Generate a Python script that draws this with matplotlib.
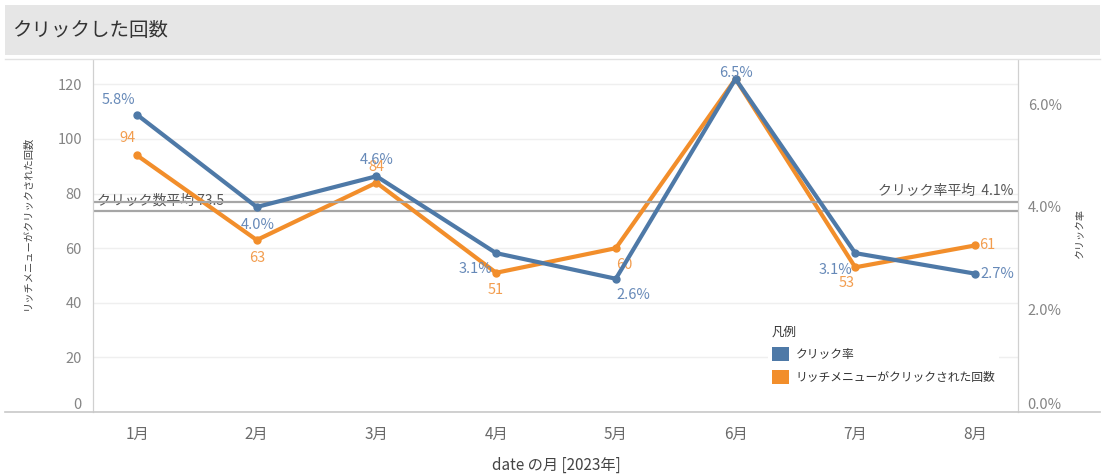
import matplotlib
matplotlib.use("Agg")
import matplotlib.pyplot as plt
from matplotlib.patches import Rectangle, Patch
from matplotlib.lines import Line2D

plt.rcParams['font.family'] = ['Noto Sans CJK JP', 'DejaVu Sans']

# ---- data ----
months = ["1月", "2月", "3月", "4月", "5月", "6月", "7月", "8月"]
click_rate = [5.8, 4.0, 4.6, 3.1, 2.6, 6.5, 3.1, 2.7]          # %
menu_clicks = [94, 63, 84, 51, 60, 122, 53, 61]
avg_clicks = 73.5
avg_rate = 4.1

title = "クリックした回数"
rate_name = "クリック率"
clicks_name = "リッチメニューがクリックされた回数"
x_title = "date の月 [2023年]"
legend_title = "凡例"

# label offsets in pixels (dx, dy) for each point
rate_offsets = [(-19, 15), (1, -18), (0, 16), (-21, -16), (18, -16), (0, 6), (-20, -17), (22, 0)]
clicks_offsets = [(-10, 17), (0, -18), (0, 16), (0, -17), (8, -17), None, (-9, -16), (12, 0)]

BLUE = "#4e79a7"
ORANGE = "#f28e2b"
BLUE_TXT = "#6689b8"
ORANGE_TXT = "#f29d4f"
TICK_C = "#858585"
AXIS_C = "#d0d0d0"

W, H = 1105, 475
fig = plt.figure(figsize=(W / 100, H / 100), dpi=100)
fig.patch.set_facecolor("white")

# title band
fig.patches.append(Rectangle((5 / W, 1 - 55 / H), 1095 / W, 50 / H,
                             transform=fig.transFigure, fc="#e6e6e6", ec="none"))
fig.text(12 / W, 1 - 30 / H, title, fontsize=14, color="#333333", va="center", ha="left")
fig.lines.append(Line2D([5 / W, 1100 / W], [1 - 59 / H] * 2, transform=fig.transFigure,
                        color="#e2e2e2", lw=1))

# plot panel
L, R, T, B = 93, 1018, 60, 412
ax = fig.add_axes([L / W, 1 - B / H, (R - L) / W, (B - T) / H])
ax2 = ax.twinx()

px_per_click = 2.73
px_per_pct = 51.25
ax.set_ylim(0, (B - T) / px_per_click)
ax2.set_ylim(0, (B - T) / px_per_pct)
ax.set_xlim(-0.368, len(months) - 1 + 0.36)

xs = list(range(len(months)))

for a in (ax, ax2):
    for s in ("top", "bottom"):
        a.spines[s].set_visible(False)
    a.spines["left"].set_color(AXIS_C)
    a.spines["right"].set_color(AXIS_C)
    a.patch.set_visible(False)

fig.lines.append(Line2D([5 / W, 1100 / W], [1 - B / H] * 2, transform=fig.transFigure,
                        color="#c8c8c8", lw=1.2))

# gridlines
ax.set_yticks([0, 20, 40, 60, 80, 100, 120])
ax.yaxis.grid(True, color="#efefef", lw=1)
ax.set_axisbelow(True)
ax.tick_params(axis="y", length=0, pad=8, labelsize=10.5, labelcolor=TICK_C)
ax2.set_yticks([0, 2, 4, 6])
ax2.set_yticklabels([f"{v:.1f}%" for v in [0, 2, 4, 6]])
ax2.tick_params(axis="y", length=0, pad=7, labelsize=10.5, labelcolor=TICK_C)
ax.get_yticklabels()[0].set_va("bottom")
ax2.get_yticklabels()[0].set_va("bottom")

ax.set_xticks(xs)
ax.set_xticklabels(months)
ax.tick_params(axis="x", length=0, pad=10, labelsize=11, labelcolor="#6a6a6a")

# average reference lines
ax.axhline(avg_clicks, color="#a6a6a6", lw=1.6, zorder=1)
ax2.axhline(avg_rate, color="#a6a6a6", lw=1.6, zorder=1)
ax.annotate(f"クリック数平均 {avg_clicks}", xy=(0, avg_clicks), xycoords=("axes fraction", "data"),
            xytext=(4, 11), textcoords="offset pixels", ha="left", va="center",
            fontsize=10, color="#555555")
ax2.annotate(f"クリック率平均  {avg_rate:.1f}%", xy=(1, avg_rate), xycoords=("axes fraction", "data"),
             xytext=(-5, 11), textcoords="offset pixels", ha="right", va="center",
             fontsize=10, color="#555555")

# series
ax.plot(xs, menu_clicks, color=ORANGE, lw=3, marker="o", ms=5, zorder=3,
        solid_joinstyle="miter")
ax2.plot(xs, click_rate, color=BLUE, lw=3, marker="o", ms=5, zorder=4,
         solid_joinstyle="miter")

for x, v, off in zip(xs, menu_clicks, clicks_offsets):
    if off is None:
        continue
    ax.annotate(f"{v}", xy=(x, v), xytext=off, textcoords="offset pixels",
                ha="center", va="center", fontsize=10.5, color=ORANGE_TXT, zorder=5)
for x, v, off in zip(xs, click_rate, rate_offsets):
    ax2.annotate(f"{v:.1f}%", xy=(x, v), xytext=off, textcoords="offset pixels",
                 ha="center", va="center", fontsize=10.5, color=BLUE_TXT, zorder=6)

# axis titles
fig.text(28 / W, 1 - 223 / H, clicks_name, rotation=90, ha="center", va="center",
         fontsize=7.4, color="#444444")
fig.text(1080 / W, 1 - 234 / H, rate_name, rotation=90, ha="center", va="center",
         fontsize=7.2, color="#444444")
fig.text(556 / W, 1 - 465 / H, x_title, ha="center", va="center",
         fontsize=11, color="#444444")

# legend
handles = [Patch(fc=BLUE, ec="none"), Patch(fc=ORANGE, ec="none")]
leg = ax2.legend(handles, [rate_name, clicks_name], title=legend_title,
                 loc="upper left", bbox_to_anchor=((768 - L) / (R - L), (B - 322) / (B - T)),
                 frameon=True, facecolor="white", edgecolor="none", framealpha=1,
                 fontsize=8.5, title_fontsize=9, alignment="left",
                 handlelength=1.45, handleheight=1.45, handletextpad=0.6,
                 labelspacing=0.75, borderpad=0.3, borderaxespad=0)
leg.get_title().set_color("#333333")
for t in leg.get_texts():
    t.set_color("#333333")
leg.set_zorder(10)

fig.savefig("out.png", dpi=100)
